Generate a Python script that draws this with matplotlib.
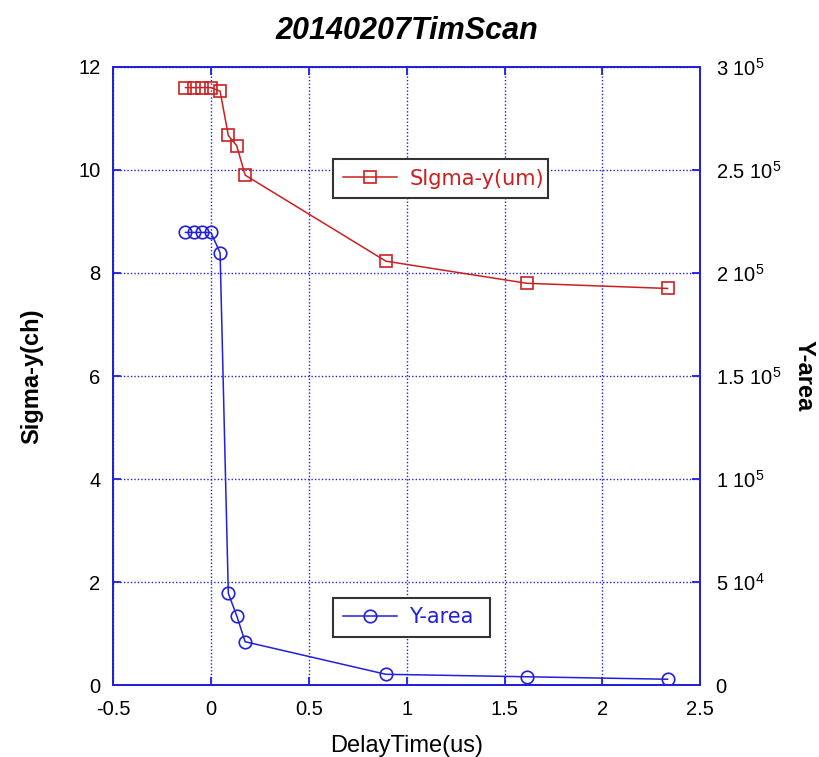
import numpy as np
import matplotlib
matplotlib.use("Agg")
import matplotlib.pyplot as plt
from matplotlib.ticker import FixedLocator, FixedFormatter

# data
delay_sig = [-0.13, -0.087, -0.043, 0.0, 0.047, 0.089, 0.132, 0.175, 0.894, 1.614, 2.333]
sigma_y = [11.6, 11.6, 11.6, 11.6, 11.53, 10.67, 10.47, 9.9, 8.23, 7.80, 7.70]

delay_area = [-0.13, -0.087, -0.043, 0.0, 0.047, 0.089, 0.132, 0.175, 0.894, 1.614, 2.333]
y_area = [2.197e5, 2.197e5, 2.197e5, 2.197e5, 2.098e5, 4.45e4, 3.36e4, 2.1e4, 5.2e3, 4.0e3, 2.8e3]

x_ticks = [-0.5, 0, 0.5, 1, 1.5, 2, 2.5]
x_labels = ["-0.5", "0", "0.5", "1", "1.5", "2", "2.5"]
left_ticks = [0, 2, 4, 6, 8, 10, 12]
right_ticks = [0, 5e4, 1e5, 1.5e5, 2e5, 2.5e5, 3e5]
right_labels = ["0", r"5 10$^{4}$", r"1 10$^{5}$", r"1.5 10$^{5}$",
                r"2 10$^{5}$", r"2.5 10$^{5}$", r"3 10$^{5}$"]

red = "#cc2020"
blue = "#2020dd"

plt.rcParams['font.family'] = ['Liberation Sans', 'DejaVu Sans']
plt.rcParams['mathtext.fontset'] = 'custom'
plt.rcParams['mathtext.rm'] = 'Liberation Sans'

fig = plt.figure(figsize=(8.19, 7.57), dpi=100)
ax = fig.add_axes([0.138, 0.0951, 0.717, 0.8164])
ax2 = ax.twinx()

l1, = ax.plot(delay_sig, sigma_y, color=red, lw=1.1, marker='s', ms=9,
              mfc='none', mec=red, mew=1.2, label="SIgma-y(um)")
l2, = ax2.plot(delay_area, y_area, color=blue, lw=1.1, marker='o', ms=9,
               mfc='none', mec=blue, mew=1.2, label="Y-area")

ax.set_xlim(-0.5, 2.5)
ax.set_ylim(0, 12)
ax2.set_ylim(0, 3e5)

ax.xaxis.set_major_locator(FixedLocator(x_ticks))
ax.xaxis.set_major_formatter(FixedFormatter(x_labels))
ax.yaxis.set_major_locator(FixedLocator(left_ticks))
ax2.yaxis.set_major_locator(FixedLocator(right_ticks))
ax2.yaxis.set_major_formatter(FixedFormatter(right_labels))

ax.grid(True, color=blue, linestyle=(0, (1, 1.5)), linewidth=1.0)
for a in (ax, ax2):
    for s in a.spines.values():
        s.set_color(blue)
        s.set_linewidth(1.3)
ax.tick_params(axis='x', direction='in', length=6, width=1.3, color=blue,
               labelsize=14.5, top=True, pad=11)
ax.tick_params(axis='y', direction='in', length=6, width=1.3, color=blue,
               labelsize=14.5, pad=9)
ax2.tick_params(axis='y', direction='in', length=6, width=1.3, color=blue,
                labelsize=14.5, pad=11)

ax.set_xlabel("DelayTime(us)", fontsize=17, labelpad=11)
ax.set_ylabel("Sigma-y(ch)", fontsize=17, fontweight='bold', labelpad=25)
ax2.set_ylabel("Y-area", fontsize=17, fontweight='bold', rotation=-90, labelpad=25)
ax.set_title("20140207TimScan", fontsize=22, fontweight='bold', fontstyle='italic', pad=20)

leg1 = ax.legend(handles=[l1], loc='lower left', bbox_to_anchor=(0.375, 0.788, 0.366, 0.07),
                 mode='expand', borderaxespad=0, fancybox=False, framealpha=1,
                 edgecolor='#333333', prop={'family': 'DejaVu Sans', 'size': 15},
                 handlelength=2.6, handletextpad=0.6, borderpad=0.45)
leg1.get_frame().set_linewidth(1.5)
for t in leg1.get_texts():
    t.set_color(red)
leg2 = ax2.legend(handles=[l2], loc='lower left', bbox_to_anchor=(0.375, 0.078, 0.267, 0.072),
                  mode='expand', borderaxespad=0, fancybox=False, framealpha=1,
                  edgecolor='#333333', prop={'family': 'DejaVu Sans', 'size': 15},
                  handlelength=2.6, handletextpad=0.6, borderpad=0.45)
leg2.get_frame().set_linewidth(1.5)
for t in leg2.get_texts():
    t.set_color(blue)

fig.savefig("out.png", dpi=100)
